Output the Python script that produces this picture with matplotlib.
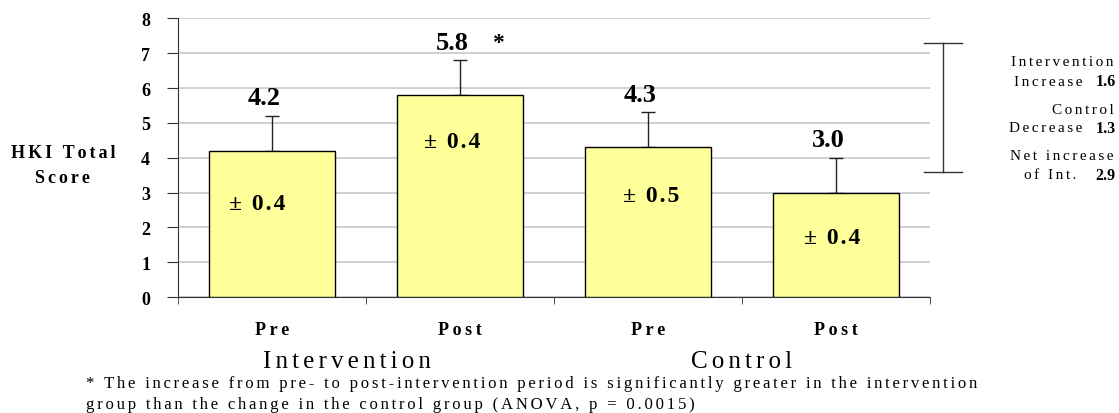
import numpy as np
import matplotlib
matplotlib.use('Agg')
import matplotlib.pyplot as plt
import matplotlib.transforms as mtransforms

# data
categories = ['Pre', 'Post', 'Pre', 'Post']
groups = ['Intervention', 'Control']
scores = [4.2, 5.8, 4.3, 3.0]
err_up = [1.0, 1.0, 1.0, 1.0]
sd_labels = ['± 0.4', '± 0.4', '± 0.5', '± 0.4']
side_words = [('Intervention', 'Increase', '1.6'),
              ('Control', 'Decrease', '1.3'),
              ('Net increase', 'of Int.', '2.9')]
bracket = [3.6, 7.3]
footnote = ['* The increase from pre- to post-intervention period is significantly greater in the intervention',
            'group than the change in the control group (ANOVA, p = 0.0015)']

# where the +/- text sits inside each bar
sd_ypos = [2.7, 4.48, 2.93, 1.72]
sd_xoff = [-0.08, -0.04, 0.02, -0.02]

plt.rcParams['font.family'] = ['Liberation Serif', 'DejaVu Serif']


def spaced(s, ch='\u2006'):
    # the original uses letter-spaced text; fake it with narrow spaces
    return ch.join(s)


fig = plt.figure(figsize=(11.19, 4.14), dpi=100)
ax = fig.add_axes([0.159, 0.280, 0.672, 0.673])

x = np.arange(len(scores))
ax.bar(x, scores, width=0.67, color='#ffff99', edgecolor='black', linewidth=1, zorder=3)
ax.errorbar(x, scores, yerr=[np.zeros(len(scores)), err_up], fmt='none',
            ecolor='#222222', elinewidth=1, capsize=5, capthick=1, zorder=2)

ax.set_xlim(-0.5, 3.5)
ax.set_ylim(0, 8)
ax.set_yticks(range(9))
ax.set_yticklabels([str(i) for i in range(9)], fontweight='bold', fontsize=13)
ax.yaxis.grid(True, color='#c8c8c8', linewidth=1.2, zorder=0)
ax.set_axisbelow(True)

ax.set_xticks(x)
ax.set_xticklabels([spaced(c, '\u2009') for c in categories], fontweight='bold', fontsize=13)
ax.set_xticks(np.arange(-0.5, 4, 1), minor=True)
ax.tick_params(axis='x', which='major', length=0, pad=17)
ax.tick_params(axis='x', which='minor', length=5, direction='out', color='#333333')
ax.tick_params(axis='y', length=8, direction='out', color='#333333', pad=12)

for s in ['top', 'right']:
    ax.spines[s].set_visible(False)
ax.spines['left'].set_color('#333333')
ax.spines['bottom'].set_color('#333333')

for i, v in enumerate(scores):
    ax.text(i - 0.04, v + err_up[i] + 0.52, f'{v:.1f}', ha='center', va='center',
            fontsize=19, fontweight='bold')
    ax.text(i + sd_xoff[i], sd_ypos[i], spaced(sd_labels[i], '\u200a'), ha='center', va='center',
            fontsize=17, fontweight='bold')
ax.text(1.2, scores[1] + err_up[1] + 0.52, '*', ha='center', va='center',
        fontsize=17, fontweight='bold')

ax.set_ylabel(spaced('HKI Total') + '\n' + spaced('Score'), fontweight='bold', fontsize=13,
              rotation=0, ha='center', va='center', labelpad=0, linespacing=1.6)
ax.yaxis.set_label_coords(-0.153, 0.475)

# group labels below the category labels
trans = mtransforms.blended_transform_factory(ax.transData, ax.transAxes)
ax.text(0.4, -0.23, spaced(groups[0]), transform=trans, ha='center', va='center', fontsize=18)
ax.text(2.5, -0.23, spaced(groups[1]), transform=trans, ha='center', va='center', fontsize=18)

# bracket on the right, outside the axes
bt = mtransforms.blended_transform_factory(fig.transFigure, ax.transData)
bx = 943 / 1119
bw = 19 / 1119
ax.plot([bx, bx], bracket, transform=bt, color='#333333', lw=1, clip_on=False)
for yb in bracket:
    ax.plot([bx - bw, bx + bw], [yb, yb], transform=bt, color='#333333', lw=1, clip_on=False)

# side notes
rx = 1116 / 1119
line_y = [63, 110, 157]
num_left = [1083, 1082, 1076]
for (w1, w2, num), yy, nl in zip(side_words, line_y, num_left):
    fig.text(rx - 0.002, 1 - yy / 414, spaced(w1), ha='right', va='center', fontsize=11)
    fig.text(rx, 1 - (yy + 19) / 414, num, ha='right', va='center',
             fontsize=11.5, fontweight='bold')
    fig.text(nl / 1119, 1 - (yy + 19) / 414, spaced(w2), ha='right', va='center', fontsize=11)

fig.text(86 / 1119, 1 - 384 / 414, spaced(footnote[0]), ha='left', va='center', fontsize=12.1)
fig.text(86 / 1119, 1 - 405 / 414, spaced(footnote[1]), ha='left', va='center', fontsize=12.1)

fig.savefig('out.png', dpi=100)
